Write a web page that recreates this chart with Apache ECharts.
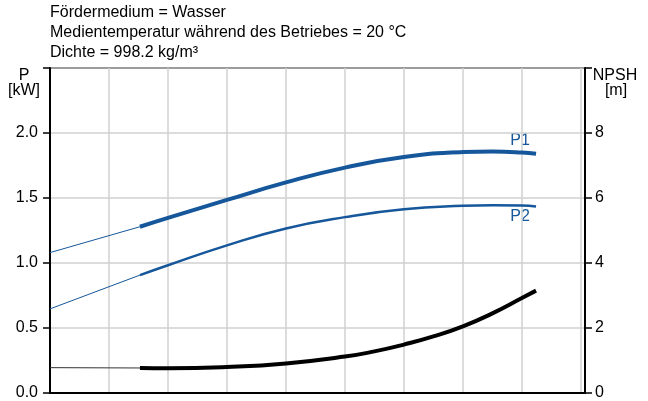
<!DOCTYPE html>
<html>
<head>
<meta charset="utf-8">
<script src="https://cdn.jsdelivr.net/npm/echarts@6/dist/echarts.min.js"></script>
<style>html,body{margin:0;padding:0;background:#fff}#c{width:648px;height:401px}</style>
</head>
<body>
<div id="c"></div>
<script>
// Data (x in flow units along hidden x-axis; gridlines at integers)
const infoLines = ['Fördermedium = Wasser', 'Medientemperatur während des Betriebes = 20 °C', 'Dichte = 998.2 kg/m³'];
const leftTicks = [0, 0.5, 1.0, 1.5, 2.0];
const rightTicks = [0, 2, 4, 6, 8];
const p1Ext = [[0, 1.08], [1.525, 1.279]];
const p1 = [[1.525, 1.279], [2, 1.347], [3, 1.485], [4, 1.62], [5, 1.734], [6, 1.816], [7, 1.853], [7.5, 1.857], [8, 1.85], [8.24, 1.84]];
const p2Ext = [[0, 0.647], [1.525, 0.907]];
const p2 = [[1.525, 0.907], [2, 0.983], [3, 1.136], [4, 1.266], [5, 1.353], [6, 1.413], [7, 1.44], [7.5, 1.445], [8, 1.442], [8.24, 1.434]];
const npshExt = [[0, 0.78], [1.525, 0.77]];
const npsh = [[1.525, 0.77], [2, 0.76], [3, 0.8], [4, 0.91], [5, 1.12], [5.5, 1.28], [6, 1.49], [6.5, 1.74], [7, 2.05], [7.5, 2.45], [8, 2.92], [8.24, 3.15]];

const BLUE = '#15579a';
const FONT = 'Liberation Sans, Arial, sans-serif';
const chart = echarts.init(document.getElementById('c'));
const gridColor = '#d0d0d0';

chart.setOption({
  animation: false,
  backgroundColor: '#fff',
  textStyle: { fontFamily: FONT },
  grid: { left: 50, right: 63, top: 68, bottom: 5, show: true, borderColor: '#000', borderWidth: 2, backgroundColor: 'transparent' },
  xAxis: {
    type: 'value', min: 0, max: 9.07, interval: 1,
    axisLine: { show: true, onZero: false, lineStyle: { color: '#000', width: 2 } },
    axisTick: { show: false }, axisLabel: { show: false },
    splitLine: { show: true, lineStyle: { color: gridColor, width: 1.5 } }
  },
  yAxis: [
    {
      type: 'value', min: 0, max: 2.5, interval: 0.5, position: 'left',
      axisLine: { show: true, lineStyle: { color: '#000', width: 2 } },
      axisTick: { show: true, length: 7, lineStyle: { color: '#000', width: 1.5 } },
      axisLabel: { color: '#000', fontSize: 16, fontFamily: FONT, margin: 12,
        formatter: v => leftTicks.includes(v) ? v.toFixed(1) : '' },
      splitLine: { show: true, lineStyle: { color: gridColor, width: 1.5 } }
    },
    {
      type: 'value', min: 0, max: 10, interval: 2, position: 'right',
      axisLine: { show: true, lineStyle: { color: '#000', width: 2 } },
      axisTick: { show: true, length: 7, lineStyle: { color: '#000', width: 1.5 } },
      axisLabel: { color: '#000', fontSize: 16, fontFamily: FONT, margin: 10,
        formatter: v => rightTicks.includes(v) ? String(v) : '' },
      splitLine: { show: false }
    }
  ],
  series: [
    { type: 'line', data: p1Ext, symbol: 'none', lineStyle: { color: BLUE, width: 1 } },
    { type: 'line', data: p1, symbol: 'none', smooth: 0.5, lineStyle: { color: BLUE, width: 4 } },
    { type: 'line', data: p2Ext, symbol: 'none', lineStyle: { color: BLUE, width: 1 } },
    { type: 'line', data: p2, symbol: 'none', smooth: 0.5, lineStyle: { color: BLUE, width: 2.5 } },
    { type: 'line', yAxisIndex: 1, data: npshExt, symbol: 'none', lineStyle: { color: '#333', width: 1 } },
    { type: 'line', yAxisIndex: 1, data: npsh, symbol: 'none', smooth: 0.5, lineStyle: { color: '#000', width: 4 } }
  ],
  graphic: [
    ...infoLines.map((t, i) => ({ type: 'text', left: 50, top: 5 + i * 20, style: { text: t, fill: '#000', font: '16px ' + FONT } })),
    { type: 'text', x: 24, y: 76, style: { text: 'P', fill: '#000', font: '16px ' + FONT, align: 'center', verticalAlign: 'middle' } },
    { type: 'text', x: 24, y: 91, style: { text: '[kW]', fill: '#000', font: '16px ' + FONT, align: 'center', verticalAlign: 'middle' } },
    { type: 'text', x: 615, y: 76, style: { text: 'NPSH', fill: '#000', font: '16px ' + FONT, align: 'center', verticalAlign: 'middle' } },
    { type: 'text', x: 616, y: 91, style: { text: '[m]', fill: '#000', font: '16px ' + FONT, align: 'center', verticalAlign: 'middle' } },
    { type: 'text', x: 520, y: 141, style: { text: 'P1', fill: BLUE, font: '16px ' + FONT, align: 'center', verticalAlign: 'middle' } },
    { type: 'text', x: 520, y: 217, style: { text: 'P2', fill: BLUE, font: '16px ' + FONT, align: 'center', verticalAlign: 'middle' } }
  ]
});
</script>
</body>
</html>
